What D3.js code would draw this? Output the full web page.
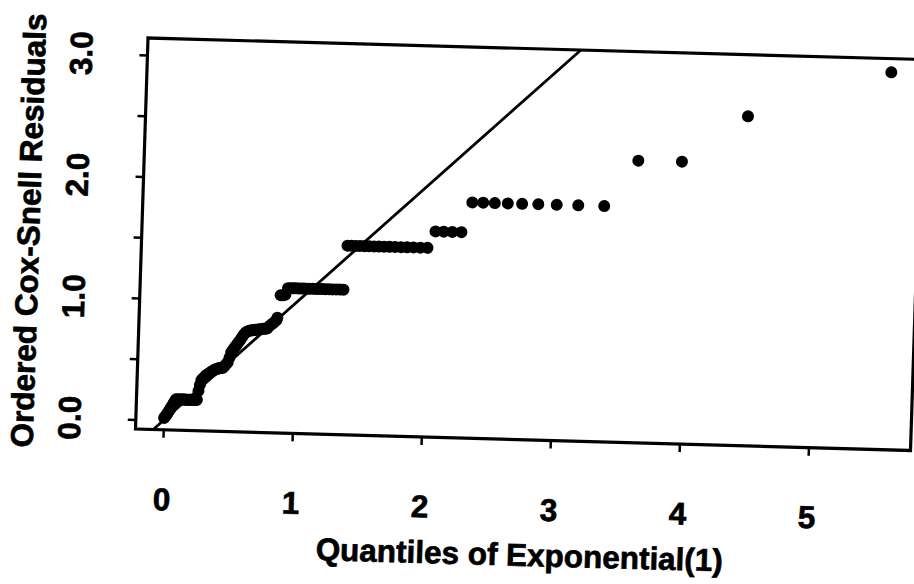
<!DOCTYPE html>
<html>
<head>
<meta charset="utf-8">
<script src="https://cdn.jsdelivr.net/npm/d3@7"></script>
<style>
  body { margin: 0; background: #fff; }
  svg text { font-family: "Liberation Sans", Arial, Helvetica, sans-serif; font-weight: bold; fill: #000; stroke: #000; stroke-width: 0.7px; }
</style>
</head>
<body>
<svg id="chart" width="914" height="584"></svg>
<script>
// quantiles of Exponential(1)
var quantiles = [
  0.004, 0.011, 0.019, 0.027, 0.035, 0.043, 0.051, 0.059, 0.067, 0.075, 0.083,
  0.091, 0.100, 0.108, 0.116, 0.125, 0.134, 0.142, 0.151, 0.160, 0.169,
  0.178, 0.187, 0.196, 0.205, 0.215, 0.224, 0.234, 0.243, 0.253,
  0.263, 0.273, 0.283,
  0.293, 0.303, 0.313, 0.324, 0.334, 0.345, 0.356, 0.367, 0.378, 0.389,
  0.400, 0.411, 0.423, 0.434, 0.446, 0.458, 0.470, 0.482, 0.495, 0.507,
  0.520, 0.533, 0.546, 0.559, 0.572, 0.586,
  0.599, 0.613, 0.627, 0.642, 0.656, 0.671, 0.686, 0.701, 0.716, 0.732,
  0.748, 0.764, 0.780, 0.797, 0.814, 0.831, 0.849,
  0.856, 0.875, 0.893, 0.912, 0.931, 0.951, 0.971, 0.991, 1.012, 1.033,
  1.055, 1.077, 1.100, 1.123, 1.147, 1.172, 1.197, 1.222, 1.249, 1.276,
  1.303, 1.332, 1.361,
  1.381, 1.413, 1.445, 1.478, 1.513, 1.549, 1.586, 1.624, 1.664, 1.706,
  1.749, 1.795, 1.842, 1.892, 1.945, 2.001,
  2.059, 2.122, 2.189, 2.260,
  2.337, 2.421, 2.511, 2.612, 2.723, 2.848, 2.991, 3.158, 3.359,
  3.612, 3.950, 4.450, 5.549
];

// ordered Cox-Snell residuals
var residuals = [
  0.02, 0.03, 0.04, 0.055, 0.07, 0.085, 0.10, 0.115, 0.13, 0.145, 0.16,
  0.175, 0.175, 0.175, 0.175, 0.175, 0.175, 0.175, 0.175, 0.175, 0.175,
  0.175, 0.175, 0.175, 0.175, 0.175, 0.175, 0.175, 0.175, 0.175,
  0.25, 0.30, 0.34,
  0.35, 0.36, 0.375, 0.385, 0.39, 0.40, 0.41, 0.415, 0.425, 0.43,
  0.435, 0.44, 0.44, 0.445, 0.445, 0.46, 0.475, 0.49, 0.53, 0.575,
  0.595, 0.615, 0.635, 0.655, 0.675, 0.70,
  0.72, 0.74, 0.75, 0.755, 0.76, 0.76, 0.765, 0.765, 0.77, 0.77,
  0.775, 0.775, 0.78, 0.80, 0.815, 0.83, 0.85,
  0.87, 1.055, 1.055, 1.06, 1.115, 1.115, 1.115, 1.115, 1.115, 1.115,
  1.115, 1.115, 1.115, 1.115, 1.115, 1.115, 1.115, 1.115, 1.115, 1.115,
  1.115, 1.115, 1.115,
  1.478, 1.478, 1.478, 1.478, 1.478, 1.478, 1.478, 1.478, 1.478, 1.478,
  1.478, 1.478, 1.478, 1.478, 1.478, 1.478,
  1.615, 1.615, 1.615, 1.615,
  1.862, 1.862, 1.862, 1.862, 1.862, 1.862, 1.862, 1.862, 1.862,
  2.243, 2.245, 2.633, 3.027
];

var xTicks = [0, 1, 2, 3, 4, 5];
var yTicks = [0, 0.5, 1, 1.5, 2, 2.5, 3];
var yLabels = [0, 1, 2, 3];

var width = 776,
    height = 391,
    fontSize = 31.5;

var x = d3.scaleLinear().domain([-0.215, 5.791]).range([0, width]);
var y = d3.scaleLinear().domain([-0.078, 3.140]).range([height, 0]);

var svg = d3.select("#chart");

// the scanned page is a little skewed, so the whole plot sits in a sheared group
var g = svg.append("g")
  .attr("transform", "matrix(0.99871,0.02771,-0.03197,1,148,38)");

g.append("clipPath").attr("id", "plot-clip")
  .append("rect").attr("width", width).attr("height", height);

// reference line y = x
var ref = [y.domain()[0], y.domain()[1]];
g.append("path")
  .datum(ref)
  .attr("clip-path", "url(#plot-clip)")
  .attr("d", d3.line().x(function(d) { return x(d); }).y(function(d) { return y(d); }))
  .attr("fill", "none")
  .attr("stroke", "#000")
  .attr("stroke-width", 2.8);

// points
g.selectAll(".pt")
  .data(d3.zip(quantiles, residuals))
  .enter().append("circle")
  .attr("class", "pt")
  .attr("cx", function(d) { return x(d[0]); })
  .attr("cy", function(d) { return y(d[1]); })
  .attr("r", 6)
  .attr("fill", "#000");

// frame
g.append("rect")
  .attr("width", width)
  .attr("height", height)
  .attr("fill", "none")
  .attr("stroke", "#000")
  .attr("stroke-width", 3.2);

// x axis
var xAxis = g.append("g")
  .attr("transform", "translate(0," + height + ")")
  .call(d3.axisBottom(x).tickValues(xTicks).tickSize(8).tickPadding(50).tickFormat(d3.format("d")));
xAxis.select(".domain").remove();
xAxis.selectAll("line").attr("stroke-width", 2.5);
xAxis.attr("font-family", null).attr("font-size", null);
xAxis.selectAll("text").style("font-size", fontSize + "px");

// y axis, labels drawn sideways like R does
var yAxis = g.append("g")
  .call(d3.axisLeft(y).tickValues(yTicks).tickSize(8).tickFormat(""));
yAxis.select(".domain").remove();
yAxis.selectAll("line").attr("stroke-width", 2.5);

g.selectAll(".ylab")
  .data(yLabels)
  .enter().append("text")
  .attr("class", "ylab")
  .attr("transform", function(d) { return "translate(-55.4," + y(d) + ") rotate(-90)"; })
  .attr("text-anchor", "middle")
  .style("font-size", fontSize + "px")
  .text(d3.format(".1f"));

// axis titles
g.append("text")
  .attr("x", width / 2)
  .attr("y", 517)
  .attr("text-anchor", "middle")
  .style("font-size", fontSize + "px")
  .text("Quantiles of Exponential(1)");

g.append("text")
  .attr("transform", "translate(-102.5," + (height / 2) + ") rotate(-90)")
  .attr("text-anchor", "middle")
  .style("font-size", fontSize + "px")
  .text("Ordered Cox-Snell Residuals");
</script>
</body>
</html>
